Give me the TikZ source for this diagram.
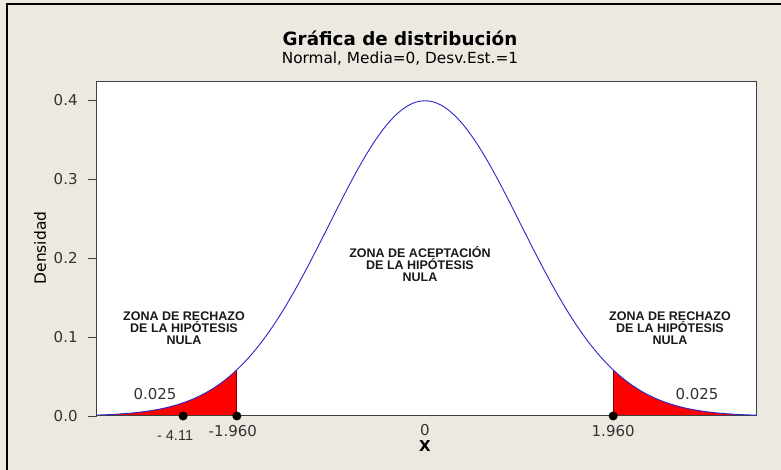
\documentclass[tikz,border=0pt]{standalone}
\usepackage{fontspec}
\setmainfont{DejaVu Sans}
\newfontfamily\arialfont{Liberation Sans}
\usetikzlibrary{positioning}

\definecolor{panel}{RGB}{236,233,224}
\definecolor{curveblue}{RGB}{40,40,200}

\tikzset{
    zona/.style={font=\arialfont\bfseries\fontsize{12.5}{12}\selectfont, align=center, text=black!90},
    ticklabel/.style={font=\fontsize{15}{17}\selectfont, text=black!80, inner sep=1pt},
    dot/.style={circle, fill=black, inner sep=0pt, minimum size=9pt},
}

\begin{document}
\begin{tikzpicture}[x=1pt,y=1pt]
    \useasboundingbox (0,0) rectangle (781,470);
    \fill[panel] (0,0) rectangle (781,470);
    \draw[line width=1.3pt] (7,0) -- (7,466) -- (781,466);

    \node[font=\bfseries\fontsize{18.3}{21}\selectfont] (title) at (400,432) {Gráfica de distribución};
    \node[font=\fontsize{15.3}{17}\selectfont, below=-1pt of title] (subtitle) {Normal, Media=0, Desv.Est.=1};
    \node[rotate=90, font=\fontsize{15.5}{17}\selectfont] (ylabel) at (40,222) {Densidad};

    \begin{scope}[shift={(425,54)}, x=96pt, y=790pt]
        \coordinate (ll) at (-3.417,0);
        \coordinate (ur) at (3.458,0.424);
        \fill[white] (ll) rectangle (ur);

        \fill[red] (ll) -- plot[domain=-3.417:-1.96, samples=40] (\x,{exp(-0.5*(\x)*(\x))/sqrt(2*pi)}) -- (-1.96,0) -- cycle;
        \fill[red] (1.96,0) -- plot[domain=1.96:3.458, samples=40] (\x,{exp(-0.5*(\x)*(\x))/sqrt(2*pi)}) -- cycle;
        \draw[red!50!black, line width=1pt] (-1.96,0) -- (-1.96,{exp(-0.5*1.96*1.96)/sqrt(2*pi)});
        \draw[red!50!black, line width=1pt] (1.96,0) -- (1.96,{exp(-0.5*1.96*1.96)/sqrt(2*pi)});

        \draw[black!75, line width=1pt] (ll) rectangle (ur);
        \draw[curveblue, line width=0.9pt] plot[domain=-3.417:3.458, samples=120, smooth] (\x,{exp(-0.5*(\x)*(\x))/sqrt(2*pi)});

        \foreach \v/\n in {0.0/a, 0.1/b, 0.2/c, 0.3/d, 0.4/e} {
            \draw[black!75, line width=0.8pt] (-3.417,\v) -- ++(-9pt,0) node[left=9pt, ticklabel] (y\n) {\v};
        }

        \node[dot] (d1) at (-2.52,0) {};
        \node[dot] (d2) at (-1.96,0) {};
        \node[dot] (d3) at (1.96,0) {};
        \coordinate (o) at (0,0);

        \node[font=\arialfont\fontsize{14.5}{16}\selectfont, text=black!80, below=6pt of d1, xshift=-8pt] (l1) {- 4.11};
        \node[ticklabel, below=3pt of d2, xshift=-4pt] (l2) {-1.960};
        \node[ticklabel, below=3pt of d3] (l3) {1.960};
        \node[ticklabel, below=7pt of o] (l0) {0};
        \node[font=\bfseries\fontsize{15}{17}\selectfont, below=0pt of l0] (xlabel) {X};
    \end{scope}

    \node[zona] (rechazo1) at (184,142) {ZONA DE RECHAZO\\DE LA HIPÓTESIS\\NULA};
    \node[zona] (aceptacion) at (420,206) {ZONA DE ACEPTACIÓN\\DE LA HIPÓTESIS\\NULA};
    \node[zona] (rechazo2) at (670,142) {ZONA DE RECHAZO\\DE LA HIPÓTESIS\\NULA};

    \node[ticklabel] (p1) at (155,76) {0.025};
    \node[ticklabel] (p2) at (697,76) {0.025};
\end{tikzpicture}
\end{document}
